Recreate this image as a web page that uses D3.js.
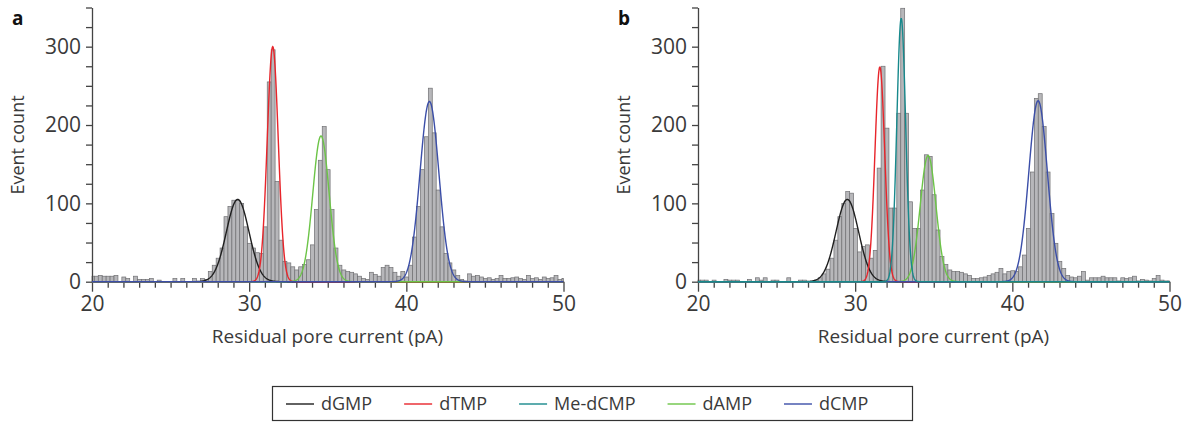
<!DOCTYPE html>
<html>
<head>
<meta charset="utf-8">
<script src="https://cdn.jsdelivr.net/npm/d3@7"></script>
<style>
  body { margin: 0; background: #fff; }
  svg { display: block; font-family: "Open Sans", sans-serif; }
</style>
</head>
<body>
<div id="chart"></div>
<script>
const width = 1192;
const height = 424;

// histogram bins: 0.25 pA wide, first bin starts at 19.9 pA (clipped at 20)
const binStart = 19.9;
const binWidth = 0.25;

// event counts per bin, panel a
const countsA = [
  7,
  7, 8, 7, 7, 7, 8, 0, 6, 4, 0,
  7, 3, 3, 3, 4, 0, 2, 0, 0, 0,
  4, 0, 4, 0, 0, 4, 0, 4, 3, 13,
  21, 30, 43, 83, 96, 104, 104, 100, 70, 49,
  43, 37, 36, 70, 255, 296, 128, 53, 26, 24,
  19, 15, 19, 22, 28, 47, 92, 155, 198, 143,
  92, 43, 21, 15, 13, 12, 10, 7, 4, 3,
  12, 9, 7, 18, 21, 18, 12, 7, 13, 6,
  21, 57, 96, 143, 185, 247, 190, 117, 70, 36,
  24, 15, 8, 3, 1, 10, 7, 8, 6, 4,
  5, 3, 4, 8, 4, 4, 5, 6, 4, 3,
  8, 4, 5, 3, 6, 4, 5, 8, 3, 4
];

// event counts per bin, panel b
const countsB = [
  2,
  2, 2, 0, 2, 0, 0, 3, 2, 2, 2,
  0, 0, 3, 0, 5, 2, 5, 0, 2, 2,
  0, 0, 5, 0, 0, 2, 2, 0, 0, 2,
  5, 10, 16, 30, 53, 83, 100, 115, 113, 68,
  38, 45, 47, 30, 40, 145, 275, 196, 94, 94,
  215, 349, 215, 102, 68, 68, 117, 162, 160, 111,
  66, 32, 22, 15, 13, 13, 12, 10, 8, 4,
  4, 5, 6, 8, 10, 12, 17, 10, 13, 14,
  13, 19, 34, 68, 140, 234, 240, 198, 140, 87,
  49, 26, 17, 8, 6, 5, 7, 13, 2, 5,
  5, 5, 7, 5, 5, 5, 1, 5, 4, 5,
  7, 1, 3, 2, 1, 4, 8, 2, 1, 1
];

const species = ["dGMP", "dTMP", "Me-dCMP", "dAMP", "dCMP"];
const speciesColors = ["#1f1f1f", "#e8252b", "#17898c", "#6cc447", "#3b4ea8"];

// gaussian fits: name, centre (pA), height (counts), sigma (pA)
const fitNamesA   = ["dGMP", "dTMP", "dAMP", "dCMP"];
const fitCentresA = [29.27, 31.5, 34.57, 41.47];
const fitHeightsA = [105, 300, 186, 230];
const fitSigmasA  = [0.72, 0.35, 0.52, 0.6];

const fitNamesB   = ["dGMP", "dTMP", "dAMP", "dCMP", "Me-dCMP"];
const fitCentresB = [29.5, 31.57, 34.64, 41.64, 32.93];
const fitHeightsB = [105, 274, 161, 231, 336];
const fitSigmasB  = [0.72, 0.31, 0.5, 0.59, 0.28];

const xTicks = d3.range(20, 51, 1);
const yTicks = d3.range(0, 351, 25);

const svg = d3.select("#chart")
  .append("svg")
  .attr("width", width)
  .attr("height", height);

function drawPanel(x0, counts, names, centres, heights, sigmas, letter) {
  const x = d3.scaleLinear().domain([20, 50]).range([x0, x0 + 471.5]);
  const y = d3.scaleLinear().domain([0, 350]).range([281.7, 7.5]);
  const g = svg.append("g");

  // bars
  g.selectAll("rect.bar")
    .data(counts)
    .enter().append("rect")
    .attr("class", "bar")
    .attr("x", (d, i) => x(Math.max(20, binStart + i * binWidth)))
    .attr("width", (d, i) => {
      const l = Math.max(20, binStart + i * binWidth);
      const r = Math.min(50, binStart + (i + 1) * binWidth);
      return Math.max(0, x(r) - x(l));
    })
    .attr("y", d => y(d))
    .attr("height", d => y(0) - y(d))
    .attr("fill", "#b7b7ba")
    .attr("stroke", "#707073")
    .attr("stroke-width", 0.7);

  // axes
  const yAxis = g.append("g")
    .attr("transform", `translate(${x0},0)`)
    .call(d3.axisLeft(y).tickValues(yTicks)
      .tickFormat(d => d % 100 === 0 ? d : "")
      .tickSize(6).tickSizeOuter(0).tickPadding(5));

  const xAxis = g.append("g")
    .attr("transform", `translate(0,${y(0)})`)
    .call(d3.axisBottom(x).tickValues(xTicks)
      .tickFormat(d => d % 10 === 0 ? d : "")
      .tickSize(6).tickSizeOuter(0).tickPadding(8));
  xAxis.selectAll(".tick line").filter(d => d % 10 === 0).attr("y2", 10);

  [xAxis, yAxis].forEach(a => {
    a.select(".domain").attr("stroke", "#444").attr("stroke-width", 1.3);
    a.selectAll(".tick line").attr("stroke", "#444").attr("stroke-width", 1.3);
    a.selectAll(".tick text")
      .attr("fill", "#3a3a3a")
      .style("font-size", "21px")
      .style("font-family", "'Open Sans', sans-serif");
  });

  // fitted curves
  const xs = d3.range(20, 50.001, 0.02);
  const line = d3.line().x(d => x(d[0])).y(d => y(d[1]));
  names.forEach((n, j) => {
    const pts = xs.map(v => [v, heights[j] * Math.exp(-0.5 * Math.pow((v - centres[j]) / sigmas[j], 2))]);
    g.append("path")
      .datum(pts)
      .attr("d", line)
      .attr("fill", "none")
      .attr("stroke", speciesColors[species.indexOf(n)])
      .attr("stroke-width", 1.4);
  });

  // labels
  g.append("text")
    .attr("transform", `translate(${x0 - 74},145) rotate(-90)`)
    .attr("text-anchor", "middle")
    .attr("dy", "0.35em")
    .attr("fill", "#3a3a3a")
    .style("font-size", "18px")
    .text("Event count");

  g.append("text")
    .attr("x", x0 + 235.5)
    .attr("y", 343)
    .attr("text-anchor", "middle")
    .attr("fill", "#3a3a3a")
    .style("font-size", "19px")
    .text("Residual pore current (pA)");

  g.append("text")
    .attr("x", x0 - 80)
    .attr("y", 25)
    .attr("fill", "#111")
    .style("font-size", "19px")
    .style("font-weight", "bold")
    .text(letter);
}

drawPanel(92, countsA, fitNamesA, fitCentresA, fitHeightsA, fitSigmasA, "a");
drawPanel(698, countsB, fitNamesB, fitCentresB, fitHeightsB, fitSigmasB, "b");

// legend
const legend = svg.append("g");
legend.append("rect")
  .attr("x", 272.5).attr("y", 386.5)
  .attr("width", 640).attr("height", 34)
  .attr("fill", "none")
  .attr("stroke", "#333")
  .attr("stroke-width", 1.2);

let lx = 286;
species.forEach((s, i) => {
  legend.append("line")
    .attr("x1", lx).attr("x2", lx + 28)
    .attr("y1", 404).attr("y2", 404)
    .attr("stroke", speciesColors[i])
    .attr("stroke-width", 1.4);
  const t = legend.append("text")
    .attr("x", lx + 35).attr("y", 404)
    .attr("dy", "0.35em")
    .attr("fill", "#3a3a3a")
    .style("font-size", "18px")
    .text(s);
  lx += 35 + t.node().getComputedTextLength() + 32;
});
</script>
</body>
</html>
